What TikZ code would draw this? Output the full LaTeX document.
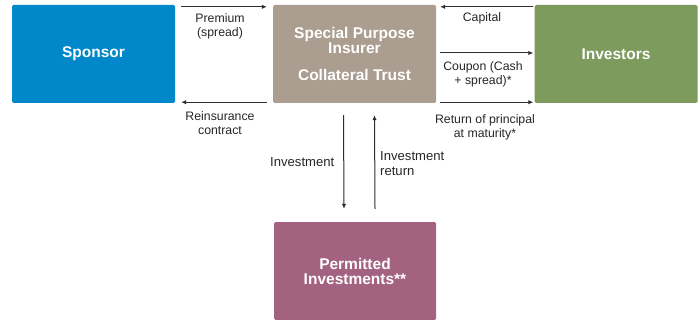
\documentclass[tikz,border=0pt]{standalone}
\usepackage{fontspec}
\setmainfont{Liberation Sans}
\usetikzlibrary{arrows.meta}
\definecolor{sponsorblue}{RGB}{0,136,202}
\definecolor{spitaupe}{RGB}{171,157,143}
\definecolor{investgreen}{RGB}{124,155,92}
\definecolor{permitplum}{RGB}{163,98,128}
\definecolor{arrowgray}{RGB}{45,45,45}

\begin{document}
\begin{tikzpicture}[x=1pt,y=-1pt,
    party/.style={minimum width=163pt,minimum height=98pt,inner sep=2pt,rounded corners=1.5pt,
      text=white,align=center,font=\fontsize{15.5}{15}\selectfont\bfseries},
    flow/.style={draw=arrowgray,line width=1pt,-{Latex[length=5pt,width=4.5pt]}},
    lbl/.style={align=center,inner sep=0pt,text=black!85,font=\fontsize{12.3}{14}\selectfont},
    biglbl/.style={lbl,font=\fontsize{13.1}{15.5}\selectfont}]
    \clip (0,0) rectangle (700,320);
    % the four parties
    \node[party,fill=sponsorblue] (sponsor) at (93.5,54) {Sponsor};
    \node[party,fill=spitaupe] (spi) at (354.5,54) {Special Purpose\\Insurer\\[12pt]Collateral Trust};
    \node[party,fill=investgreen] (investors) at (616,54) {Investors};
    \node[party,fill=permitplum,minimum width=162pt] (permitted) at (355,271) {Permitted\\Investments**};
    % flows between them
    \draw[flow] ([shift={(6,2)}]sponsor.north east) -- ([shift={(-6,2)}]spi.north west);
    \draw[flow] ([shift={(-6,-1)}]spi.south west) -- ([shift={(6,-1)}]sponsor.south east);
    \draw[flow] ([shift={(-1,2)}]investors.north west) -- ([shift={(4,2)}]spi.north east);
    \draw[flow] ([shift={(4,-1)}]spi.east) -- ([shift={(-1,-1)}]investors.west);
    \draw[flow] ([shift={(4,-1)}]spi.south east) -- ([shift={(-1,-1)}]investors.south west);
    \draw[flow] ([shift={(-11,12)}]spi.south) -- ([shift={(-11,-13)}]permitted.north);
    \draw[flow] ([shift={(20,-13)}]permitted.north) -- ([shift={(20,12)}]spi.south);
    % labels
    \node[lbl] (premiumtxt) at (220,26) {Premium\\(spread)};
    \node[lbl] (reinstxt) at (220,123) {Reinsurance\\contract};
    \node[lbl] (capitaltxt) at (482,18) {Capital};
    \node[lbl] (coupontxt) at (483,74.5) {Coupon (Cash\\+ spread)*};
    \node[lbl] (principaltxt) at (485,127) {Return of principal\\at maturity*};
    \node[biglbl,anchor=east] (investtxt) at (334.5,162) {Investment};
    \node[biglbl,anchor=west,align=left] (returntxt) at (380,163.5) {Investment\\return};
\end{tikzpicture}
\end{document}
